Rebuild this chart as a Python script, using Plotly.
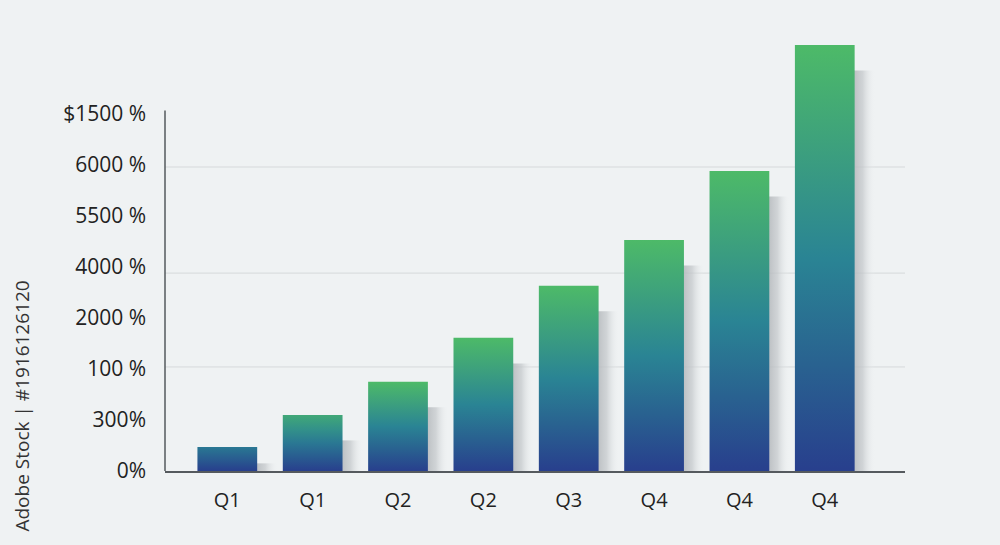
import plotly.graph_objects as go

# dati
quarters = ["Q1", "Q1", "Q2", "Q2", "Q3", "Q4", "Q4", "Q4"]
values = [0.47, 1.10, 1.75, 2.61, 3.63, 4.53, 5.88, 8.35]
y_ticks = [0, 1, 2, 3, 4, 5, 6, 7]
y_labels = ["0%", "300%", "100 %", "2000 %", "4000 %", "5500 %", "6000 %", "$1500 %"]
grid_levels = [2.04, 3.88, 5.96]

bg = "#eff2f3"
bar_w = 0.70


def mix(c1, c2, t):
    a = [int(c1[i:i + 2], 16) for i in (1, 3, 5)]
    b = [int(c2[i:i + 2], 16) for i in (1, 3, 5)]
    return "rgb({},{},{})".format(*[round(x + (y - x) * t) for x, y in zip(a, b)])


def master(s):
    # blu in basso, verde-acqua a metà, verde in alto
    if s < 0.5:
        return mix("#283f8d", "#2a8494", s / 0.5)
    return mix("#2a8494", "#4dba68", (s - 0.5) / 0.5)


fig = go.Figure()

# ombre
for i, v in enumerate(values):
    x0 = i + bar_w / 2 - 0.05
    x1 = i + bar_w / 2 + 0.24
    top = max(v - 0.5, 0.15)
    fig.add_trace(go.Scatter(
        x=[x0, x1, x1, x0, x0], y=[0, 0, top, top, 0],
        mode="lines", line=dict(width=0), fill="toself",
        fillgradient=dict(type="horizontal",
                          colorscale=[[0, "rgba(175,179,183,0.95)"], [0.5, "rgba(195,199,202,0.7)"],
                                      [1, "rgba(239,242,243,0)"]]),
        hoverinfo="skip", showlegend=False))

# barre con gradiente
for i, v in enumerate(values):
    x0 = i - bar_w / 2
    x1 = i + bar_w / 2
    t = min(1.0, 0.1 + v / 1.5)
    scale = [[k / 4, master(t * k / 4)] for k in range(5)]
    fig.add_trace(go.Scatter(
        x=[x0, x1, x1, x0, x0], y=[0, 0, v, v, 0],
        mode="lines", line=dict(width=0), fill="toself",
        fillgradient=dict(type="vertical", colorscale=scale),
        name=quarters[i], showlegend=False))

for g in grid_levels:
    fig.add_shape(type="line", xref="paper", x0=0, x1=1, y0=g, y1=g,
                  line=dict(color="#d6d9db", width=1), layer="below")

# asse y corto
fig.add_shape(type="line", xref="paper", x0=0, x1=0, y0=0, y1=7.07,
              line=dict(color="#555a5e", width=1.5))

fig.add_annotation(text="Adobe Stock | #1916126120", xref="paper", yref="paper",
                   x=-0.193, y=0.15, xanchor="center", yanchor="middle", textangle=-90,
                   showarrow=False, font=dict(size=19, color="#333", family="Open Sans"))

fig.update_layout(
    width=1000, height=545,
    paper_bgcolor=bg, plot_bgcolor=bg,
    margin=dict(l=165, r=95, t=40, b=74),
    font=dict(family="Open Sans", color="#222"),
    showlegend=False,
)
fig.update_xaxes(range=[-0.73, 7.94], tickvals=list(range(len(quarters))), ticktext=quarters,
                 showgrid=False, zeroline=False, showline=True, linecolor="#555a5e", linewidth=1.5,
                 tickfont=dict(size=20, color="#222"), ticks="", ticklabelstandoff=10)
fig.update_yaxes(range=[0, 8.45], tickvals=y_ticks, ticktext=y_labels,
                 showgrid=False, zeroline=False, showline=False,
                 tickfont=dict(size=21, color="#222"), ticks="", ticklabelstandoff=18)

fig.write_html("out.html", config={"displayModeBar": False},
               post_script="document.body.style.margin='0';")
